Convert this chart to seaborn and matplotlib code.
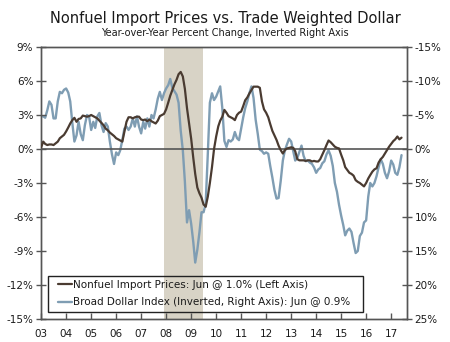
import matplotlib
matplotlib.use("Agg")
import matplotlib.pyplot as plt
import pandas as pd
import seaborn as sns
from matplotlib.lines import Line2D
from matplotlib.patches import Rectangle

# ---- data (monthly, Jan 2003 - Jun 2017), year-over-year % change ----
nonfuel_import_prices = [
    0.15, 0.65, 0.45, 0.35, 0.4, 0.4, 0.35, 0.5, 0.65, 0.95, 1.1, 1.25,          # 2003
    1.55, 1.9, 2.25, 2.55, 2.75, 2.4, 2.65, 2.7, 2.95, 2.9, 2.85, 2.9,           # 2004
    3.0, 2.9, 2.8, 2.7, 2.5, 2.3, 2.1, 1.8, 1.65, 1.45, 1.3, 1.15,               # 2005
    0.95, 0.85, 0.75, 0.65, 1.5, 2.4, 2.8, 2.8, 2.7, 2.8, 2.85, 2.85,            # 2006
    2.6, 2.55, 2.6, 2.45, 2.6, 2.45, 2.35, 2.25, 2.5, 2.9, 3.0, 3.1,             # 2007
    3.5, 4.1, 4.7, 5.2, 5.7, 6.1, 6.6, 6.8, 6.4, 5.3, 3.6, 2.3,                  # 2008
    0.9, -0.8, -2.2, -3.4, -3.9, -4.3, -4.9, -5.1, -4.2, -3.0, -1.6, 0.0,        # 2009
    1.1, 2.0, 2.5, 2.85, 3.45, 3.2, 2.9, 2.8, 2.7, 2.55, 3.0, 3.2,               # 2010
    3.3, 3.8, 4.3, 4.55, 4.9, 5.2, 5.5, 5.5, 5.5, 5.4, 4.2, 3.5,                 # 2011
    3.2, 2.8, 2.2, 1.6, 1.2, 0.8, 0.3, -0.1, -0.4, -0.1, 0.05, 0.1,              # 2012
    0.15, 0.1, -0.2, -0.9, -1.0, -1.0, -1.0, -1.05, -1.0, -1.0, -1.1, -1.05,     # 2013
    -1.1, -1.1, -0.9, -0.5, -0.1, 0.35, 0.75, 0.6, 0.4, 0.2, 0.1, 0.05,          # 2014
    -0.5, -1.0, -1.6, -1.85, -2.1, -2.2, -2.35, -2.75, -2.9, -3.0, -3.15, -3.3,  # 2015
    -3.0, -2.6, -2.3, -2.0, -1.8, -1.7, -1.2, -0.9, -0.7, -0.4, -0.1, 0.2,       # 2016
    0.45, 0.7, 0.85, 1.1, 0.85, 1.0,                                             # 2017
]
broad_dollar_index = [
    -4.8, -4.8, -4.6, -5.7, -7.0, -6.5, -4.5, -4.5, -7.0, -8.4, -8.2, -8.7,      # 2003
    -8.9, -8.3, -7.0, -3.8, -1.1, -2.0, -4.0, -2.2, -1.3, -3.5, -5.0, -4.8,      # 2004
    -2.8, -4.0, -3.1, -4.8, -5.3, -3.5, -2.5, -3.8, -3.3, -1.1, 0.8, 2.2,        # 2005
    0.5, 0.9, 0.2, -1.3, -3.0, -3.3, -2.8, -3.3, -4.5, -3.3, -4.8, -3.3,         # 2006
    -2.3, -4.0, -3.0, -4.5, -3.3, -5.0, -4.5, -5.8, -7.4, -8.4, -7.2, -8.2,      # 2007
    -8.9, -9.4, -10.3, -9.0, -8.5, -8.0, -6.8, -2.7, 0.2, 4.8, 10.8, 9.0,        # 2008
    11.0, 13.7, 16.7, 14.8, 12.3, 9.3, 9.3, 8.0, 0.7, -6.8, -8.2, -7.2,          # 2009
    -7.7, -8.5, -9.2, -6.0, -1.2, -0.3, -1.3, -1.1, -1.4, -2.5, -1.6, -1.3,      # 2010
    -3.0, -4.7, -6.0, -7.0, -8.2, -9.2, -7.5, -4.3, -2.2, 0.1, 0.3, 0.7,         # 2011
    0.5, 0.7, 2.5, 4.2, 6.0, 7.3, 7.2, 4.7, 1.7, 0.2, -0.7, -1.5,                # 2012
    -1.1, 0.4, 1.7, 1.3, 0.4, -0.5, 1.0, 1.8, 1.7, 2.0, 2.2, 2.7,                # 2013
    3.5, 3.0, 2.8, 2.1, 1.8, 0.8, 0.2, 1.0, 2.5, 5.0, 6.3, 8.2,                  # 2014
    9.8, 11.2, 12.7, 12.0, 11.7, 12.2, 13.8, 15.3, 15.0, 12.8, 12.3, 10.8,       # 2015
    10.5, 7.0, 5.0, 5.5, 5.0, 4.0, 2.7, 1.5, 2.2, 3.5, 4.3, 3.3,                 # 2016
    1.7, 2.3, 3.5, 3.8, 2.7, 0.9,                                                # 2017
]
year_ticks = list(range(2003, 2018))
year_labels = ["03", "04", "05", "06", "07", "08", "09", "10", "11", "12",
               "13", "14", "15", "16", "17"]
left_ticks = [9, 6, 3, 0, -3, -6, -9, -12, -15]
right_ticks = [-15, -10, -5, 0, 5, 10, 15, 20, 25]
recession = ("2007-12-01", "2009-06-30")
series_names = ["Nonfuel Import Prices: Jun @ 1.0% (Left Axis)",
                "Broad Dollar Index (Inverted, Right Axis): Jun @ 0.9%"]

dates = pd.date_range("2003-01-01", periods=len(nonfuel_import_prices), freq="MS")
df = pd.DataFrame({"date": dates, "nonfuel": nonfuel_import_prices,
                   "dollar": broad_dollar_index})

sns.set_style("white")
plt.rcParams["font.family"] = ["DejaVu Sans"]

BROWN = "#4a3b31"
BLUE = "#7f9db3"
SPINE = "#555555"
TXT = "#1a1a1a"

fig = plt.figure(figsize=(4.5, 3.42), dpi=100)
ax = fig.add_axes([41 / 450, 23 / 342, 366 / 450, 272 / 342])
ax2 = ax.twinx()

# bottom layer (ax2): recession shading + dollar line
ax2.axvspan(pd.Timestamp(recession[0]), pd.Timestamp(recession[1]),
            color="#d8d3c6", lw=0, zorder=0)
sns.lineplot(data=df, x="date", y="dollar", ax=ax2, color=BLUE, lw=1.7, zorder=4)

# top layer (ax): zero line + import prices
ax.axhline(0, color="#555555", lw=1.2, zorder=1)
sns.lineplot(data=df, x="date", y="nonfuel", ax=ax, color=BROWN, lw=1.6, zorder=5)

ax.set_zorder(ax2.get_zorder() + 1)
ax.patch.set_visible(False)

ax.set_xlim(pd.Timestamp("2002-12-30"), pd.Timestamp("2017-08-20"))
ax.set_ylim(-15, 9)
ax2.set_ylim(25, -15)

ax.set_yticks(left_ticks)
ax.set_yticklabels([f"{t}%" for t in left_ticks])
ax2.set_yticks(right_ticks)
ax2.set_yticklabels([f"{t}%" for t in right_ticks])
ax.set_xticks([pd.Timestamp(f"{y}-01-01") for y in year_ticks])
ax.set_xticklabels(year_labels)

for a in (ax, ax2):
    a.set_xlabel("")
    a.set_ylabel("")

ax.tick_params(axis="y", direction="inout", length=7, width=1, color=SPINE,
               labelsize=7.5, labelcolor=TXT, pad=2, left=True)
ax2.tick_params(axis="y", direction="inout", length=7, width=1, color=SPINE,
                labelsize=7.5, labelcolor=TXT, pad=2, right=True)
ax.tick_params(axis="x", direction="in", length=4, width=1, color=SPINE,
               labelsize=7.5, labelcolor=TXT, pad=7, bottom=True)

for a in (ax, ax2):
    for s in a.spines.values():
        s.set_color(SPINE)
        s.set_linewidth(1.0)
        s.set_visible(True)

# legend frame drawn as a separate box, legend itself frameless
ax.add_patch(Rectangle((0.019, 0.026), 0.861, 0.132, transform=ax.transAxes,
                       fill=False, edgecolor="#222222", lw=1.0, zorder=10))
handles = [Line2D([0], [0], color=BROWN, lw=1.6),
           Line2D([0], [0], color=BLUE, lw=1.7)]
leg = ax.legend(handles, series_names, loc="center left",
                bbox_to_anchor=(0.047, 0.093), frameon=False,
                fontsize=7.5, handlelength=1.3, handletextpad=0.1,
                borderpad=0, labelspacing=0.72, borderaxespad=0)
for t in leg.get_texts():
    t.set_color(TXT)

fig.text(0.5, 1 - 18 / 342, "Nonfuel Import Prices vs. Trade Weighted Dollar",
         ha="center", va="center", fontsize=10.5, color=TXT)
fig.text(0.5, 1 - 33 / 342, "Year-over-Year Percent Change, Inverted Right Axis",
         ha="center", va="center", fontsize=7, color=TXT)

fig.savefig("out.png", dpi=100)
